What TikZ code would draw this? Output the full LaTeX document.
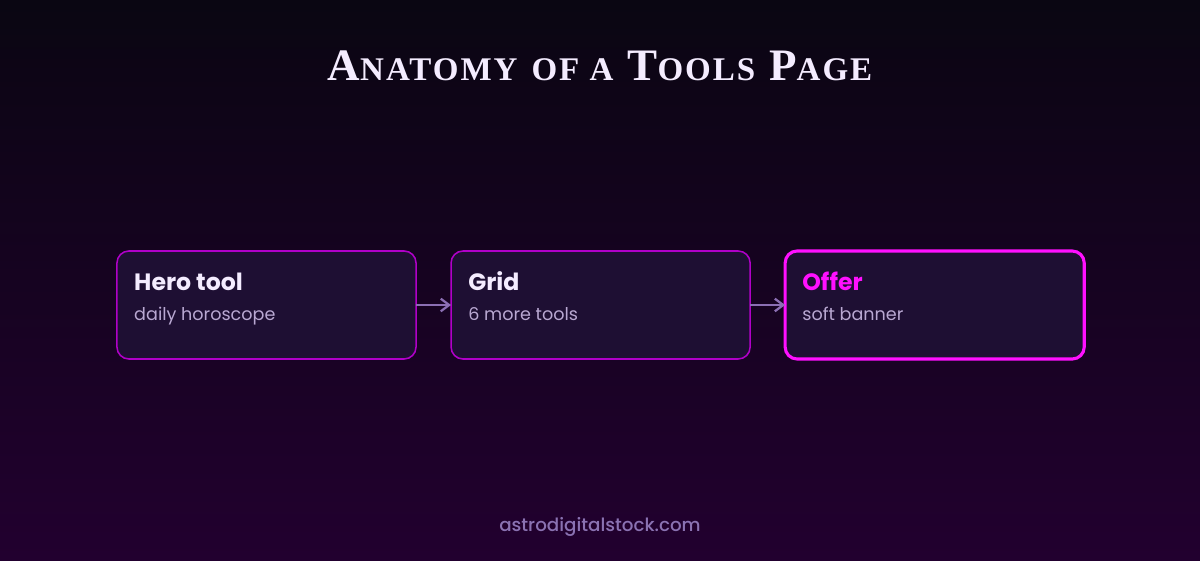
\documentclass[tikz,border=0pt]{standalone}
\usepackage{fontspec}
\setmainfont{Liberation Serif}
\setsansfont{Poppins}
\usepackage{tikz}
\usetikzlibrary{arrows.meta, positioning, calc}

\definecolor{bgtop}{HTML}{0A0612}
\definecolor{bgbot}{HTML}{22002F}
\definecolor{boxfill}{HTML}{1E0F33}
\definecolor{boxline}{HTML}{B000C8}
\definecolor{hotline}{HTML}{FF10FF}
\definecolor{titletext}{HTML}{F4ECFF}
\definecolor{subtext}{HTML}{B9A8D2}
\definecolor{arrowcol}{HTML}{8C6FB4}
\definecolor{foottext}{HTML}{8A72B2}

\newcommand{\capsmall}[2]{{\fontsize{32}{32}\selectfont #1}{\fontsize{23.5}{24}\selectfont #2}}

\begin{document}
\begin{tikzpicture}[x=0.025cm, y=-0.025cm,
    panel/.style={rectangle, rounded corners=8.5pt, draw=boxline, line width=1.1pt, fill=boxfill, minimum width=7.475cm, minimum height=2.7cm, inner sep=0pt, outer sep=0pt},
    hotpanel/.style={panel, draw=hotline, line width=2.2pt},
    head/.style={anchor=base west, inner sep=0pt, font=\sffamily\bfseries\fontsize{16.8}{18}\selectfont, text=titletext},
    sub/.style={anchor=base west, inner sep=0pt, font=\sffamily\fontsize{12.5}{14}\selectfont, text=subtext},
    link/.style={draw=arrowcol, line width=1.6pt, -{Straight Barb[length=6pt, width=9pt]}},
    node distance=0.875cm]
    \shade[top color=bgtop, bottom color=bgbot] (0,0) rectangle (1200,560);
    \useasboundingbox (0,0) rectangle (1200,560);

    \node[text=titletext, font=\bfseries\fontsize{32}{32}\selectfont\addfontfeature{LetterSpace=6}] (title) at (600,66) {\capsmall{A}{NATOMY} \capsmall{}{OF A} \capsmall{T}{OOLS} \capsmall{P}{AGE}};

    \node[panel] (hero) at (266.5,305) {};
    \node[panel, right=of hero] (grid) {};
    \node[hotpanel, right=of grid] (offer) {};

    \node[head] (herohead) at ($(hero.north west)+(17,40)$) {Hero tool};
    \node[sub] (herosub) at ($(hero.north west)+(17,70)$) {daily horoscope};
    \node[head] (gridhead) at ($(grid.north west)+(17,40)$) {Grid};
    \node[sub] (gridsub) at ($(grid.north west)+(17,70)$) {6 more tools};
    \node[head, text=hotline] (offerhead) at ($(offer.north west)+(17,40)$) {Offer};
    \node[sub] (offersub) at ($(offer.north west)+(17,70)$) {soft banner};

    \draw[link] (hero) -- (grid);
    \draw[link] (grid) -- (offer);

    \node[font=\sffamily\fontsize{13}{14}\selectfont\fontspec{Poppins Medium}, text=foottext] (site) at (600,527) {astrodigitalstock.com};
\end{tikzpicture}
\end{document}
